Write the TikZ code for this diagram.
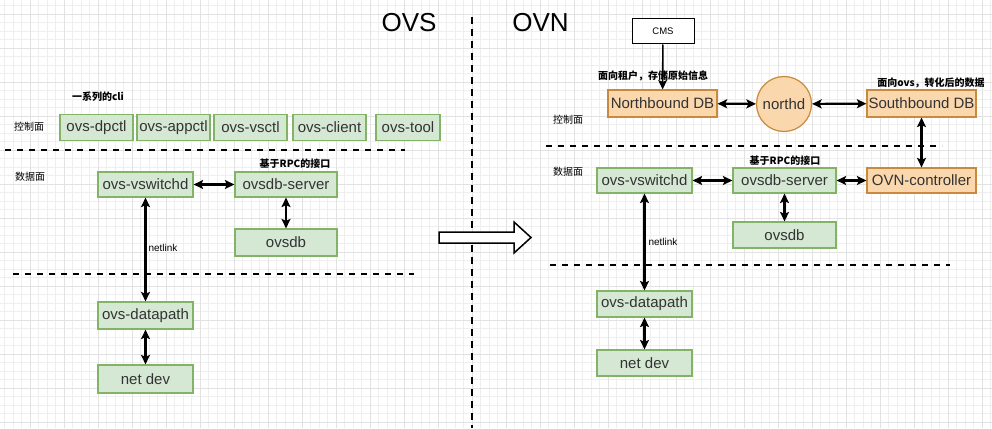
\documentclass[tikz,border=0pt]{standalone}
\usepackage{fontspec}
\setmainfont{Liberation Sans}
\newfontfamily\cjk{Noto Sans CJK SC}
\usetikzlibrary{arrows.meta}

\definecolor{gfill}{HTML}{D5E8D4}
\definecolor{gline}{HTML}{82B366}
\definecolor{ofill}{HTML}{FAD7AC}
\definecolor{oline}{HTML}{C98A3C}
\definecolor{boxtext}{HTML}{333333}
\definecolor{gridmajor}{HTML}{E2E2E2}
\definecolor{gridminor}{HTML}{EFEFEF}

\begin{document}
\begin{tikzpicture}[x=1pt, y=-1pt,
		greenbox/.style={draw=gline, fill=gfill, line width=1.2pt, text=boxtext, font=\fontsize{15}{18}\selectfont, inner sep=0pt, minimum height=26pt},
		orangebox/.style={draw=oline, fill=ofill, line width=1.2pt, text=boxtext, font=\fontsize{15}{18}\selectfont, inner sep=0pt, minimum height=26pt},
		link/.style={{Stealth[length=9.5pt,width=9pt,inset=2pt]}-{Stealth[length=9.5pt,width=9pt,inset=2pt]}, line width=2.2pt},
		feed/.style={-{Stealth[length=9.5pt,width=9pt,inset=2pt]}, line width=1.6pt},
		plane/.style={dash pattern=on 6pt off 6pt, line width=1.5pt},
		note/.style={font=\cjk\bfseries\fontsize{10}{12}\selectfont, inner sep=0pt},
		side/.style={font=\cjk\fontsize{10}{12}\selectfont, inner sep=0pt},
		title/.style={font=\fontsize{26}{30}\selectfont, inner sep=0pt}]

		\fill[white] (0, 0) rectangle (992, 428);
		\useasboundingbox (0, 0) rectangle (992, 428);

		\begin{scope}
			\clip (0, 0) rectangle (992, 428);
			\foreach \i in {0,...,117}
				\draw[color=gridminor, line width=0.8pt] ({-4+8.5*\i}, 0) -- ++(0, 428);
			\foreach \j in {0,...,53}
				\draw[color=gridminor, line width=0.8pt] (0, {-20+8.5*\j}) -- ++(992, 0);
			\foreach \i in {0,...,30}
				\draw[color=gridmajor, line width=0.9pt] ({-4+34*\i}, 0) -- ++(0, 428);
			\foreach \j in {0,...,13}
				\draw[color=gridmajor, line width=0.9pt] (0, {-20+34*\j}) -- ++(992, 0);
		\end{scope}

		\node[title] (ovs) at (409, 23) {OVS};
		\node[title] (ovn) at (540.5, 23) {OVN};

		\draw[dash pattern=on 7pt off 5pt, line width=1.5pt] (472, 17) -- (472, 428);

		\draw[plane] (5, 150) -- (405, 150);
		\draw[plane] (13, 274) -- (414, 274);
		\draw[plane] (546, 146) -- (942, 146);
		\draw[plane] (550, 265) -- (950, 265);

		\draw[fill=white, line width=1.5pt] (439, 232) -- (514, 232) -- (514, 222) -- (531, 237.5) -- (514, 253) -- (514, 243) -- (439, 243) -- cycle;


		\node[note] (clis) at (98, 97) {一系列的cli};
		\node[side] (ctrlL) at (29, 127) {控制面};
		\node[side] (dataL) at (30, 177) {数据面};
		\node[note] (rpcL) at (295, 164) {基于RPC的接口};
		\node[font=\fontsize{10}{12}\selectfont, inner sep=0pt] (nlL) at (163, 248) {netlink};

		\node[greenbox, minimum width=73pt] (dpctl) at (96.5, 127.5) {ovs-dpctl};
		\node[greenbox, minimum width=73pt] (appctl) at (173.5, 127.5) {ovs-appctl};
		\node[greenbox, minimum width=73pt] (vsctl) at (250.5, 127.5) {ovs-vsctl};
		\node[greenbox, minimum width=73pt] (client) at (329.5, 127.5) {ovs-client};
		\node[greenbox, minimum width=64pt] (tool) at (408, 127.5) {ovs-tool};

		\node[greenbox, minimum width=95pt, minimum height=25pt] (vswitchdL) at (145.5, 184.5) {ovs-vswitchd};
		\node[greenbox, minimum width=102pt, minimum height=25pt] (serverL) at (286, 184.5) {ovsdb-server};
		\node[greenbox, minimum width=102pt, minimum height=27pt] (ovsdbL) at (286, 242.5) {ovsdb};
		\node[greenbox, minimum width=95pt, minimum height=27pt] (datapathL) at (145.5, 315.5) {ovs-datapath};
		\node[greenbox, minimum width=95pt, minimum height=28pt] (netdevL) at (145.5, 379) {net dev};

		\draw[link] (vswitchdL) -- (serverL);
		\draw[link] (serverL) -- (ovsdbL);
		\draw[link] (vswitchdL) -- (datapathL);
		\draw[link] (datapathL) -- (netdevL);


		\node[note] (tenant) at (653, 76) {面向租户，存储原始信息};
		\node[note] (forovs) at (931, 83) {面向ovs，转化后的数据};
		\node[side] (ctrlR) at (568, 120) {控制面};
		\node[side] (dataR) at (568, 172) {数据面};
		\node[note] (rpcR) at (785, 161) {基于RPC的接口};
		\node[font=\fontsize{10}{12}\selectfont, inner sep=0pt] (nlR) at (663, 242) {netlink};

		\node[draw, fill=white, line width=1pt, minimum width=62pt, minimum height=25pt, inner sep=0pt, font=\fontsize{9.5}{11}\selectfont] (cms) at (663, 31.5) {CMS};
		\node[orangebox, minimum width=109pt, minimum height=27pt] (nb) at (662.5, 103.5) {Northbound DB};
		\node[orangebox, circle, minimum size=55pt] (northd) at (784, 104) {northd};
		\node[orangebox, minimum width=109pt, minimum height=27pt] (sb) at (921.5, 103.5) {Southbound DB};

		\node[greenbox, minimum width=95pt, minimum height=25pt] (vswitchdR) at (644.5, 180.5) {ovs-vswitchd};
		\node[greenbox, minimum width=103pt, minimum height=25pt] (serverR) at (784.5, 180.5) {ovsdb-server};
		\node[orangebox, minimum width=109pt, minimum height=25pt] (controller) at (921.5, 180.5) {OVN-controller};
		\node[greenbox, minimum width=103pt, minimum height=26pt] (ovsdbR) at (784.5, 235) {ovsdb};
		\node[greenbox, minimum width=95pt, minimum height=26pt] (datapathR) at (644.5, 304) {ovs-datapath};
		\node[greenbox, minimum width=95pt, minimum height=26pt] (netdevR) at (644.5, 363) {net dev};

		\draw[feed] (cms) -- (nb);
		\draw[link] (nb) -- (northd);
		\draw[link] (northd) -- (sb);
		\draw[link] (sb) -- (controller);
		\draw[link] (vswitchdR) -- (serverR);
		\draw[link] (serverR) -- (controller);
		\draw[link] (serverR) -- (ovsdbR);
		\draw[link] (vswitchdR) -- (datapathR);
		\draw[link] (datapathR) -- (netdevR);

	\end{tikzpicture}
\end{document}
